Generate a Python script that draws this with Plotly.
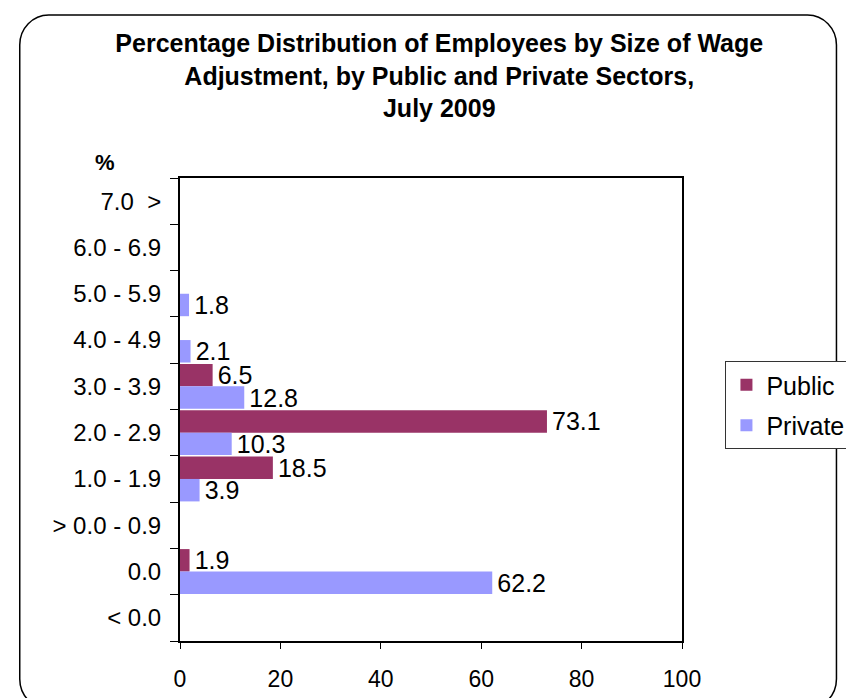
import plotly.graph_objects as go

# ---------------- data ----------------
categories = ["7.0 >", "6.0 - 6.9", "5.0 - 5.9", "4.0 - 4.9", "3.0 - 3.9",
              "2.0 - 2.9", "1.0 - 1.9", "> 0.0 - 0.9", "0.0", "< 0.0"]
tick_labels = ["7.0\u00a0\u00a0>", "6.0 - 6.9", "5.0 - 5.9", "4.0 - 4.9", "3.0 - 3.9",
               "2.0 - 2.9", "1.0 - 1.9", "> 0.0 - 0.9", "0.0", "< 0.0"]
public_values = [None, None, None, None, 6.5, 73.1, 18.5, None, 1.9, None]
private_values = [None, None, 1.8, 2.1, 12.8, 10.3, 3.9, None, 62.2, None]
x_ticks = [0, 20, 40, 60, 80, 100]

title_lines = ["Percentage Distribution of Employees by Size of Wage",
               "Adjustment, by Public and Private Sectors,",
               "July 2009"]

FONT = "Arial, 'Liberation Sans', sans-serif"
W, H = 854, 698
PL, PR, PT, PB = 172, 692, 170, 633  # plot area in pixels


def px_to_paper(x, y):
    return (x - PL) / (PR - PL), (PB - y) / (PB - PT)


def fmt(v):
    return "" if v is None else "\u200a" + f"{v:.1f}"


fig = go.Figure()
fig.add_trace(go.Bar(
    name="Public", y=categories, x=public_values, orientation="h",
    marker=dict(color="#993366", line=dict(width=0)),
    text=[fmt(v) for v in public_values], textposition="outside",
    textfont=dict(family=FONT, size=25, color="black"),
    cliponaxis=False, constraintext="none", legendgroup="a",
))
fig.add_trace(go.Bar(
    name="Private", y=categories, x=private_values, orientation="h",
    marker=dict(color="#9999FF", line=dict(width=0)),
    text=[fmt(v) for v in private_values], textposition="outside",
    textfont=dict(family=FONT, size=25, color="black"),
    cliponaxis=False, constraintext="none", legendgroup="b",
))

# rounded outer border (pixel geometry converted to paper coordinates)
x0, y0, x1, y1, r = 6, 7, 852, 701, 30
k = 0.5523 * r


def P(x, y):
    a, b = px_to_paper(x, y)
    return f"{a:.5f},{b:.5f}"


path = (
    f"M {P(x0 + r, y0)} L {P(x1 - r, y0)} "
    f"C {P(x1 - r + k, y0)} {P(x1, y0 + r - k)} {P(x1, y0 + r)} "
    f"L {P(x1, y1 - r)} "
    f"C {P(x1, y1 - r + k)} {P(x1 - r + k, y1)} {P(x1 - r, y1)} "
    f"L {P(x0 + r, y1)} "
    f"C {P(x0 + r - k, y1)} {P(x0, y1 - r + k)} {P(x0, y1 - r)} "
    f"L {P(x0, y0 + r)} "
    f"C {P(x0, y0 + r - k)} {P(x0 + r - k, y0)} {P(x0 + r, y0)} Z"
)
fig.add_shape(type="path", path=path, xref="paper", yref="paper",
              line=dict(color="black", width=1.5), layer="below")

pct_x, pct_y = px_to_paper(94, 154)
fig.add_annotation(text="<b>%</b>", x=pct_x, y=pct_y, xref="paper", yref="paper",
                   xanchor="center", yanchor="middle",
                   showarrow=False, font=dict(family=FONT, size=22, color="black"))

lgx, lgy = px_to_paper(737, 353)

fig.update_layout(
    width=W, height=H, autosize=False,
    margin=dict(l=PL, r=W - PR, t=PT, b=H - PB, pad=0),
    paper_bgcolor="white", plot_bgcolor="white",
    font=dict(family=FONT, size=24, color="black"),
    title=dict(text="<b>" + "<br>".join(title_lines) + "</b>",
               x=0.505, xanchor="center", y=1 - 44 / H, yanchor="top",
               yref="container",
               font=dict(family=FONT, size=25, color="black")),
    barmode="group", bargap=0.03, bargroupgap=0,
    showlegend=True,
    legend=dict(x=lgx, y=lgy, xanchor="left", yanchor="top",
                bordercolor="#333333", borderwidth=1, bgcolor="white",
                font=dict(family=FONT, size=25, color="black"),
                traceorder="grouped", tracegroupgap=5),
    xaxis=dict(range=[0, 100], tickvals=x_ticks, ticktext=[str(v) for v in x_ticks],
               showgrid=False, zeroline=False,
               showline=True, linecolor="black", linewidth=2, mirror=True,
               ticks="outside", ticklen=6, tickcolor="black", tickwidth=1,
               tickfont=dict(family=FONT, size=23, color="black"),
               ticklabelstandoff=10),
    yaxis=dict(categoryorder="array", categoryarray=categories,
               tickvals=categories, ticktext=tick_labels,
               autorange="reversed", showgrid=False, zeroline=False,
               showline=True, linecolor="black", linewidth=2, mirror=True,
               ticks="outside", ticklen=8, tickcolor="black", tickwidth=1,
               tickson="boundaries",
               tickfont=dict(family=FONT, size=24, color="black"),
               ticklabelstandoff=12),
)

fig.write_html("out.html")
